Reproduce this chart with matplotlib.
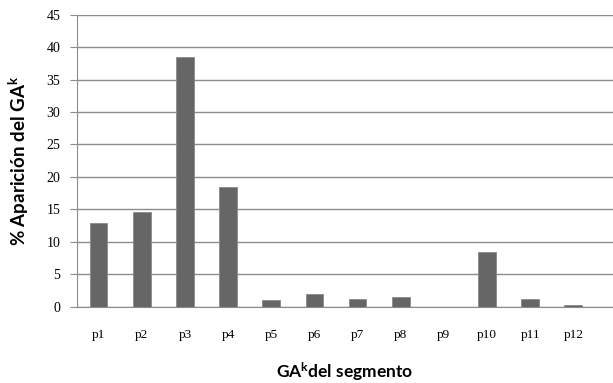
import matplotlib
matplotlib.use("Agg")
import matplotlib.pyplot as plt

categories = ["p1", "p2", "p3", "p4", "p5", "p6", "p7", "p8", "p9", "p10", "p11", "p12"]
values = [12.8, 14.5, 38.4, 18.4, 1.0, 2.0, 1.1, 1.4, 0.0, 8.4, 1.1, 0.3]
yticks = [0, 5, 10, 15, 20, 25, 30, 35, 40, 45]

plt.rcParams['font.family'] = ['Lato', 'DejaVu Sans']
plt.rcParams['mathtext.fontset'] = 'custom'
plt.rcParams['mathtext.rm'] = 'Lato:bold'
plt.rcParams['mathtext.it'] = 'Lato:bold'
plt.rcParams['mathtext.bf'] = 'Lato:bold'

fig = plt.figure(figsize=(6.13, 3.83), dpi=100)
ax = fig.add_axes([77/613, (383-306.5)/383, 1 - 77/613, (306.5-14.7)/383])

x = list(range(len(categories)))
ax.bar(x, values, width=0.41, color='#666666', edgecolor='#8a8a8a', linewidth=0.6, zorder=3)

ax.set_xlim(-0.5, 11.92)
ax.set_ylim(0, 45)
ax.set_yticks(yticks)
ax.set_yticklabels([str(v) for v in yticks], fontsize=10, family='Liberation Serif')
ax.set_xticks(x)
ax.set_xticklabels(categories, fontsize=9.5, family='Liberation Serif')

ax.grid(axis='y', color='#8c8c8c', linewidth=1.0, zorder=0)
ax.set_axisbelow(True)
for s in ['top', 'right']:
    ax.spines[s].set_visible(False)
ax.spines['left'].set_color('#8c8c8c')
ax.spines['bottom'].set_color('#8c8c8c')
ax.tick_params(axis='y', length=5, color='#8c8c8c', pad=7)
ax.tick_params(axis='x', length=0, pad=16)

ax.set_ylabel(r'% Aparición del GA$^{\mathrm{k}}$', fontsize=13.5, fontweight='bold', labelpad=11)
ax.set_xlabel(r'GA$^{\mathrm{k}}$del segmento', fontsize=12.5, fontweight='bold', labelpad=14)

fig.savefig('out.png', dpi=100)
